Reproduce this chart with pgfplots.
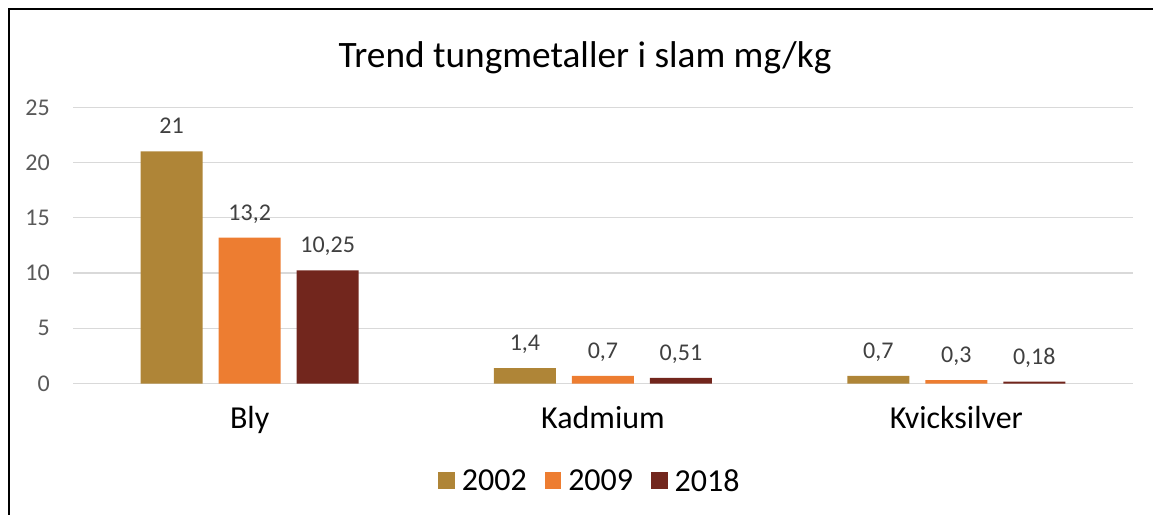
\documentclass[border=0pt]{standalone}
\usepackage{fontspec}
\setmainfont{Carlito}
\usepackage{pgfplots}
\pgfplotsset{compat=1.18}

\definecolor{c2002}{RGB}{175,133,55}
\definecolor{c2009}{RGB}{237,125,49}
\definecolor{c2018}{RGB}{114,38,29}
\definecolor{gridgray}{RGB}{217,217,217}
\definecolor{ticktext}{RGB}{89,89,89}
\definecolor{labeltext}{RGB}{64,64,64}

\begin{document}
\begin{tikzpicture}
\path[use as bounding box] (0,0) rectangle (1153bp,515bp);
\draw[line width=2bp] (8.7bp,0) -- (8.7bp,506bp) -- (1153bp,506bp);
\node[anchor=base, font=\fontsize{37.3bp}{42bp}\selectfont] at (585bp,447bp) {Trend tungmetaller i slam mg/kg};
\begin{axis}[
    at={(73bp,131.5bp)},
    anchor=south west,
    scale only axis,
    width=1060bp,
    height=276.2bp,
    xmin=-0.5, xmax=2.5,
    ymin=0, ymax=25,
    ybar=16bp,
    bar width=62bp,
    axis line style={draw=none},
    major tick length=0pt,
    xtick={0,1,2},
    xticklabels={Bly, Kadmium, Kvicksilver},
    ytick={0,5,10,15,20,25},
    ymajorgrids,
    major grid style={gridgray, line width=1.3bp},
    /pgf/number format/assume math mode=true,
    /pgf/number format/use comma,
    /pgf/number format/1000 sep={},
    xticklabel style={anchor=base, yshift=-44.5bp, font=\fontsize{32bp}{36bp}\selectfont, text=black},
    yticklabel style={anchor=east, inner sep=0pt, xshift=-23bp, font=\fontsize{24bp}{28bp}\selectfont, text=ticktext},
    nodes near coords,
    every node near coord/.append style={anchor=base, yshift=17.5bp, inner sep=0pt, font=\fontsize{24bp}{28bp}\selectfont, text=labeltext},
    legend columns=-1,
    legend style={draw=none, at={(0.4877,-0.353)}, anchor=center,
        font=\fontsize{32bp}{36bp}\selectfont,
        /tikz/every odd column/.append style={column sep=5bp},
        /tikz/every even column/.append style={column sep=16bp}},
    legend image code/.code={\fill[#1] (0bp,-8bp) rectangle (16.5bp,8.5bp);},
]
\addplot[fill=c2002, draw=none] coordinates {(0,21) (1,1.4) (2,0.7)};
\addplot[fill=c2009, draw=none] coordinates {(0,13.2) (1,0.7) (2,0.3)};
\addplot[fill=c2018, draw=none] coordinates {(0,10.25) (1,0.51) (2,0.18)};
\legend{2002, 2009, 2018}
\end{axis}
\end{tikzpicture}
\end{document}
